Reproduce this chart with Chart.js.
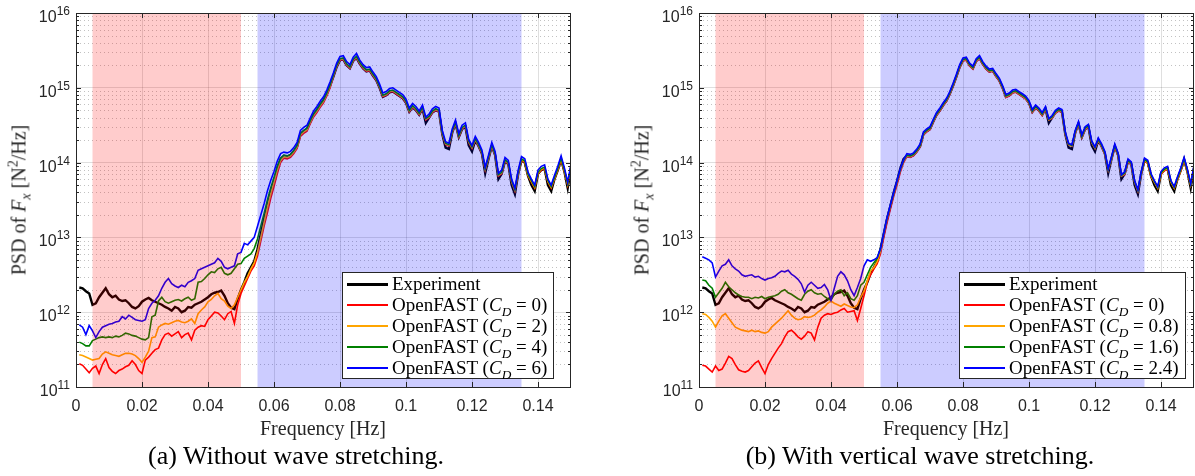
<!DOCTYPE html>
<html>
<head>
<meta charset="utf-8">
<script src="https://cdn.jsdelivr.net/npm/chart.js@4.4.1/dist/chart.umd.min.js"></script>
<style>
  body { margin: 0; background: #fff; }
  #page { position: relative; width: 1195px; height: 476px; overflow: hidden; font-family: "Liberation Serif", serif; }
  .panel { position: absolute; top: 0; width: 572px; height: 420px; }
  .ylab, .xlab, .caption { position: absolute; white-space: nowrap; }
  .ylab { font-size: 20px; color: #262626; transform: translate(-50%, -50%) rotate(-90deg); }
  .xlab { font-size: 20px; color: #262626; transform: translate(-50%, -50%); }
  .caption { font-size: 26px; color: #000; transform: translate(-50%, -50%); }
  sub, sup { font-size: 70%; line-height: 0; }
  .legend { position: absolute; background: #fff; border: 1px solid #262626; padding: 0 6px 0 0; font-size: 19px; color: #000; }
  .legend .row { display: flex; align-items: flex-start; height: 21px; line-height: 21px; white-space: nowrap; }
  .legend .swatch { display: block; width: 41px; margin: 10px 4px 0 4px; flex: none; }
</style>
</head>
<body>
<div id="page">
  <div class="panel" style="left:0"><canvas id="chartA"></canvas></div>
  <div class="panel" style="left:623px"><canvas id="chartB"></canvas></div>

  <div class="ylab" style="left:19px; top:200px">PSD of <i>F<sub>x</sub></i> [N<sup>2</sup>/Hz]</div>
  <div class="ylab" style="left:642px; top:200px">PSD of <i>F<sub>x</sub></i> [N<sup>2</sup>/Hz]</div>
  <div class="xlab" style="left:323px; top:428px">Frequency [Hz]</div>
  <div class="xlab" style="left:946px; top:428px">Frequency [Hz]</div>
  <div class="caption" style="left:296px; top:456px">(a) Without wave stretching.</div>
  <div class="caption" style="left:920px; top:456px">(b) With vertical wave stretching.</div>

  <div class="legend" id="legendA" style="left:342px; top:272px"></div>
  <div class="legend" id="legendB" style="left:959px; top:272px"></div>
</div>

<script>
// 周波数 [Hz]
var freq = [
  0.001, 0.002, 0.003, 0.004, 0.005, 0.006, 0.007, 0.008, 0.009, 0.010,
  0.011, 0.012, 0.013, 0.014, 0.015, 0.016, 0.017, 0.018, 0.019, 0.020,
  0.021, 0.022, 0.023, 0.024, 0.025, 0.026, 0.027, 0.028, 0.029, 0.030,
  0.031, 0.032, 0.033, 0.034, 0.035, 0.036, 0.037, 0.038, 0.039, 0.040,
  0.041, 0.042, 0.043, 0.044, 0.045, 0.046, 0.047, 0.048, 0.049, 0.050,
  0.051, 0.052, 0.053, 0.054, 0.055, 0.056, 0.057, 0.058, 0.059, 0.060,
  0.061, 0.062, 0.063, 0.064, 0.065, 0.066, 0.067, 0.068, 0.069, 0.070,
  0.071, 0.072, 0.073, 0.074, 0.075, 0.076, 0.077, 0.078, 0.079, 0.080,
  0.081, 0.082, 0.083, 0.084, 0.085, 0.086, 0.087, 0.088, 0.089, 0.090,
  0.091, 0.092, 0.093, 0.094, 0.095, 0.096, 0.097, 0.098, 0.099, 0.100,
  0.101, 0.102, 0.103, 0.104, 0.105, 0.106, 0.107, 0.108, 0.109, 0.110,
  0.111, 0.112, 0.113, 0.114, 0.115, 0.116, 0.117, 0.118, 0.119, 0.120,
  0.121, 0.122, 0.123, 0.124, 0.125, 0.126, 0.127, 0.128, 0.129, 0.130,
  0.131, 0.132, 0.133, 0.134, 0.135, 0.136, 0.137, 0.138, 0.139, 0.140,
  0.141, 0.142, 0.143, 0.144, 0.145, 0.146, 0.147, 0.148, 0.149, 0.150
];

// PSD の値は log10 [N^2/Hz] で読み取り
// 実験 (両方のグラフで共通)
var experimentLog = [
  12.33, 12.32, 12.28, 12.25, 12.10, 12.12, 12.20, 12.26, 12.32, 12.24,
  12.20, 12.22, 12.17, 12.15, 12.16, 12.12, 12.07, 12.05, 12.08, 12.14,
  12.17, 12.19, 12.16, 12.14, 12.12, 12.10, 12.07, 12.05, 12.02, 12.07,
  12.05, 12.00, 12.02, 12.07, 12.06, 12.10, 12.12, 12.14, 12.17, 12.20,
  12.24, 12.26, 12.27, 12.29, 12.22, 12.12, 12.06, 12.04, 12.18, 12.30,
  12.40, 12.52, 12.60, 12.68, 12.84, 13.05, 13.25, 13.42, 13.60, 13.75,
  13.92, 14.05, 14.09, 14.08, 14.10, 14.15, 14.22, 14.38, 14.42, 14.45,
  14.55, 14.64, 14.70, 14.77, 14.83, 14.92, 15.03, 15.15, 15.28, 15.37,
  15.38, 15.30, 15.26, 15.36, 15.40, 15.32, 15.26, 15.22, 15.23, 15.16,
  15.10, 15.00, 14.88, 14.90, 14.94, 14.95, 14.92, 14.89, 14.86, 14.80,
  14.68, 14.74, 14.70, 14.64, 14.72, 14.53, 14.60, 14.67, 14.70, 14.68,
  14.38, 14.20, 14.18, 14.40, 14.52, 14.34, 14.45, 14.48, 14.23, 14.15,
  14.30, 14.22, 14.12, 13.86, 14.05, 14.22, 14.10, 13.78, 13.85, 14.02,
  13.98, 13.70, 13.58, 13.85, 14.03, 14.00, 13.82, 13.70, 13.62, 13.85,
  13.90, 13.92, 13.70, 13.62, 13.78, 13.90, 14.04, 13.88, 13.66, 13.93
];

// (a) 波の伸長なし : OpenFAST C_D = 0, 2, 4, 6
var fastA_cd0 = [
  11.31, 11.29, 11.24, 11.19, 11.25, 11.28, 11.18, 11.30, 11.38, 11.26,
  11.21, 11.18, 11.22, 11.24, 11.27, 11.29, 11.35, 11.30, 11.22, 11.18,
  11.36, 11.40, 11.45, 11.50, 11.52, 11.63, 11.70, 11.72, 11.68, 11.71,
  11.74, 11.66, 11.70, 11.72, 11.63, 11.76, 11.80, 11.82, 11.81, 11.90,
  11.95, 12.00, 11.99, 11.95, 11.90, 11.98, 12.01, 11.85, 12.10, 12.25,
  12.35, 12.45, 12.55, 12.62, 12.75, 12.95, 13.15, 13.33, 13.52, 13.68,
  13.85, 14.00, 14.06, 14.05, 14.07, 14.12, 14.19, 14.35, 14.39, 14.42,
  14.52, 14.61, 14.67, 14.74, 14.80, 14.89, 15.00, 15.15, 15.28, 15.37,
  15.38, 15.30, 15.26, 15.36, 15.40, 15.32, 15.26, 15.22, 15.23, 15.16,
  15.10, 15.00, 14.88, 14.90, 14.94, 14.95, 14.92, 14.89, 14.86, 14.80,
  14.68, 14.74, 14.70, 14.64, 14.72, 14.57, 14.60, 14.67, 14.70, 14.68,
  14.38, 14.24, 14.22, 14.40, 14.52, 14.34, 14.45, 14.48, 14.27, 14.19,
  14.30, 14.22, 14.12, 13.90, 14.05, 14.22, 14.10, 13.82, 13.85, 14.02,
  13.98, 13.74, 13.62, 13.85, 14.03, 14.00, 13.82, 13.74, 13.66, 13.85,
  13.90, 13.92, 13.74, 13.66, 13.78, 13.90, 14.04, 13.88, 13.70, 13.93
];
var fastA_cd2 = [
  11.43, 11.42, 11.40, 11.38, 11.36, 11.37, 11.38, 11.44, 11.47, 11.45,
  11.43, 11.42, 11.41, 11.43, 11.45, 11.45, 11.44, 11.42, 11.38, 11.33,
  11.40, 11.48, 11.66, 11.67, 11.80, 11.83, 11.85, 11.84, 11.86, 11.88,
  11.89, 11.87, 11.86, 11.88, 11.91, 11.85, 11.98, 12.03, 12.07, 12.14,
  12.17, 12.22, 12.25, 12.18, 12.15, 12.08, 12.05, 12.10, 12.20, 12.30,
  12.40, 12.48, 12.58, 12.66, 12.80, 13.00, 13.20, 13.40, 13.58, 13.74,
  13.90, 14.03, 14.08, 14.07, 14.09, 14.14, 14.21, 14.37, 14.41, 14.44,
  14.54, 14.63, 14.69, 14.76, 14.82, 14.91, 15.02, 15.16, 15.29, 15.38,
  15.39, 15.31, 15.27, 15.37, 15.41, 15.33, 15.27, 15.23, 15.24, 15.17,
  15.11, 15.01, 14.89, 14.91, 14.95, 14.96, 14.93, 14.90, 14.87, 14.81,
  14.69, 14.75, 14.71, 14.65, 14.73, 14.58, 14.61, 14.68, 14.71, 14.69,
  14.39, 14.25, 14.23, 14.41, 14.53, 14.35, 14.46, 14.49, 14.28, 14.20,
  14.31, 14.23, 14.13, 13.91, 14.06, 14.23, 14.11, 13.83, 13.86, 14.03,
  13.99, 13.75, 13.63, 13.86, 14.04, 14.01, 13.83, 13.75, 13.67, 13.86,
  13.91, 13.93, 13.75, 13.67, 13.79, 13.91, 14.05, 13.89, 13.71, 13.94
];
var fastA_cd4 = [
  11.60, 11.58, 11.55, 11.55, 11.62, 11.64, 11.66, 11.67, 11.66, 11.67,
  11.66, 11.68, 11.67, 11.69, 11.72, 11.71, 11.69, 11.68, 11.66, 11.64,
  11.63, 11.66, 11.94, 11.96, 12.15, 12.20, 12.14, 12.12, 12.14, 12.16,
  12.17, 12.15, 12.18, 12.20, 12.16, 12.18, 12.40, 12.41, 12.45, 12.50,
  12.54, 12.53, 12.58, 12.60, 12.52, 12.50, 12.52, 12.58, 12.64, 12.65,
  12.72, 12.75, 12.78, 12.85, 12.98, 13.15, 13.32, 13.50, 13.66, 13.80,
  13.95, 14.06, 14.10, 14.09, 14.11, 14.16, 14.23, 14.39, 14.43, 14.46,
  14.56, 14.65, 14.71, 14.78, 14.84, 14.93, 15.04, 15.17, 15.30, 15.39,
  15.40, 15.32, 15.28, 15.38, 15.42, 15.34, 15.28, 15.24, 15.25, 15.18,
  15.12, 15.02, 14.90, 14.92, 14.96, 14.97, 14.94, 14.91, 14.88, 14.82,
  14.70, 14.76, 14.72, 14.66, 14.74, 14.59, 14.62, 14.69, 14.72, 14.70,
  14.40, 14.26, 14.24, 14.42, 14.54, 14.36, 14.47, 14.50, 14.29, 14.21,
  14.32, 14.24, 14.14, 13.92, 14.07, 14.24, 14.12, 13.84, 13.87, 14.04,
  14.00, 13.76, 13.64, 13.87, 14.05, 14.02, 13.84, 13.76, 13.68, 13.87,
  13.92, 13.94, 13.76, 13.68, 13.80, 13.92, 14.06, 13.90, 13.72, 13.95
];
var fastA_cd6 = [
  11.83, 11.80, 11.70, 11.82, 11.75, 11.66, 11.74, 11.80, 11.82, 11.84,
  11.85, 11.87, 11.88, 11.94, 11.91, 11.96, 11.93, 11.90, 11.89, 11.88,
  11.90, 12.05, 12.12, 12.16, 12.22, 12.32, 12.40, 12.45, 12.38, 12.35,
  12.33, 12.36, 12.34, 12.40, 12.42, 12.45, 12.56, 12.58, 12.60, 12.62,
  12.64, 12.66, 12.72, 12.68, 12.60, 12.58, 12.60, 12.62, 12.78, 12.80,
  12.92, 12.90, 12.95, 13.00, 13.15, 13.30, 13.45, 13.62, 13.76, 13.88,
  14.02, 14.12, 14.14, 14.13, 14.15, 14.20, 14.27, 14.43, 14.47, 14.50,
  14.60, 14.69, 14.75, 14.82, 14.88, 14.97, 15.08, 15.20, 15.33, 15.42,
  15.43, 15.35, 15.31, 15.41, 15.46, 15.37, 15.31, 15.27, 15.28, 15.21,
  15.15, 15.05, 14.93, 14.95, 14.99, 15.00, 14.97, 14.94, 14.91, 14.85,
  14.73, 14.79, 14.75, 14.69, 14.77, 14.61, 14.65, 14.72, 14.75, 14.73,
  14.43, 14.28, 14.26, 14.45, 14.57, 14.39, 14.50, 14.53, 14.31, 14.23,
  14.35, 14.27, 14.17, 13.94, 14.10, 14.27, 14.15, 13.86, 13.90, 14.07,
  14.03, 13.78, 13.66, 13.90, 14.08, 14.05, 13.87, 13.78, 13.70, 13.90,
  13.95, 13.97, 13.78, 13.70, 13.83, 13.95, 14.09, 13.93, 13.74, 13.98
];

// (b) 鉛直方向の波の伸長あり : OpenFAST C_D = 0, 0.8, 1.6, 2.4
var fastB_cd0 = [
  11.29, 11.28, 11.24, 11.20, 11.28, 11.22, 11.24, 11.32, 11.41, 11.38,
  11.30, 11.23, 11.21, 11.20, 11.22, 11.27, 11.32, 11.35, 11.26, 11.18,
  11.30, 11.38, 11.45, 11.52, 11.58, 11.67, 11.74, 11.76, 11.72, 11.67,
  11.64, 11.68, 11.74, 11.72, 11.63, 11.80, 11.92, 11.96, 11.98, 11.97,
  11.99, 12.00, 12.03, 12.05, 12.00, 12.01, 12.02, 11.89, 12.05, 12.22,
  12.40, 12.50, 12.58, 12.65, 12.78, 13.00, 13.20, 13.38, 13.55, 13.70,
  13.87, 14.00, 14.08, 14.07, 14.09, 14.14, 14.21, 14.37, 14.41, 14.44,
  14.54, 14.63, 14.69, 14.76, 14.82, 14.91, 15.02, 15.14, 15.27, 15.36,
  15.37, 15.29, 15.25, 15.35, 15.39, 15.31, 15.25, 15.21, 15.22, 15.15,
  15.09, 14.99, 14.87, 14.89, 14.93, 14.94, 14.91, 14.88, 14.85, 14.79,
  14.67, 14.73, 14.69, 14.63, 14.71, 14.57, 14.59, 14.66, 14.69, 14.67,
  14.37, 14.24, 14.22, 14.39, 14.51, 14.33, 14.44, 14.47, 14.27, 14.19,
  14.29, 14.21, 14.11, 13.90, 14.04, 14.21, 14.09, 13.82, 13.84, 14.01,
  13.97, 13.74, 13.62, 13.84, 14.02, 13.99, 13.81, 13.74, 13.66, 13.84,
  13.89, 13.91, 13.74, 13.66, 13.77, 13.89, 14.03, 13.87, 13.70, 13.92
];
var fastB_cd08 = [
  11.98, 11.97, 11.93, 11.88, 11.80, 11.88, 11.95, 11.98, 11.92, 11.86,
  11.80, 11.78, 11.76, 11.75, 11.74, 11.76, 11.74, 11.75, 11.73, 11.72,
  11.74, 11.80, 11.84, 11.88, 11.92, 11.97, 12.02, 11.96, 11.92, 11.90,
  11.91, 11.94, 11.93, 11.94, 11.96, 12.00, 12.03, 12.07, 12.12, 12.15,
  12.12, 12.10, 12.08, 12.11, 12.09, 12.07, 12.06, 12.10, 12.20, 12.28,
  12.42, 12.55, 12.60, 12.68, 12.82, 13.05, 13.25, 13.42, 13.58, 13.74,
  13.90, 14.02, 14.09, 14.08, 14.10, 14.15, 14.22, 14.38, 14.42, 14.45,
  14.55, 14.64, 14.70, 14.77, 14.83, 14.92, 15.03, 15.15, 15.28, 15.37,
  15.38, 15.30, 15.26, 15.36, 15.40, 15.32, 15.26, 15.22, 15.23, 15.16,
  15.10, 15.00, 14.88, 14.90, 14.94, 14.95, 14.92, 14.89, 14.86, 14.80,
  14.68, 14.74, 14.70, 14.64, 14.72, 14.57, 14.60, 14.67, 14.70, 14.68,
  14.38, 14.24, 14.22, 14.40, 14.52, 14.34, 14.45, 14.48, 14.27, 14.19,
  14.30, 14.22, 14.12, 13.90, 14.05, 14.22, 14.10, 13.82, 13.85, 14.02,
  13.98, 13.74, 13.62, 13.85, 14.03, 14.00, 13.82, 13.74, 13.66, 13.85,
  13.90, 13.92, 13.74, 13.66, 13.78, 13.90, 14.04, 13.88, 13.70, 13.93
];
var fastB_cd16 = [
  12.43, 12.42, 12.36, 12.32, 12.20, 12.26, 12.32, 12.40, 12.34, 12.30,
  12.26, 12.23, 12.21, 12.20, 12.20, 12.18, 12.20, 12.19, 12.21, 12.18,
  12.20, 12.21, 12.22, 12.24, 12.28, 12.30, 12.26, 12.24, 12.21, 12.18,
  12.16, 12.24, 12.28, 12.30, 12.26, 12.24, 12.25, 12.21, 12.18, 12.16,
  12.24, 12.28, 12.30, 12.22, 12.26, 12.18, 12.16, 12.22, 12.36, 12.40,
  12.50, 12.60, 12.66, 12.72, 12.85, 13.06, 13.26, 13.43, 13.59, 13.75,
  13.91, 14.03, 14.10, 14.09, 14.11, 14.16, 14.23, 14.39, 14.43, 14.46,
  14.56, 14.65, 14.71, 14.78, 14.84, 14.93, 15.04, 15.16, 15.29, 15.38,
  15.39, 15.31, 15.27, 15.37, 15.41, 15.33, 15.27, 15.23, 15.24, 15.17,
  15.11, 15.01, 14.89, 14.91, 14.95, 14.96, 14.93, 14.90, 14.87, 14.81,
  14.69, 14.75, 14.71, 14.65, 14.73, 14.58, 14.61, 14.68, 14.71, 14.69,
  14.39, 14.25, 14.23, 14.41, 14.53, 14.35, 14.46, 14.49, 14.28, 14.20,
  14.31, 14.23, 14.13, 13.91, 14.06, 14.23, 14.11, 13.83, 13.86, 14.03,
  13.99, 13.75, 13.63, 13.86, 14.04, 14.01, 13.83, 13.75, 13.67, 13.86,
  13.91, 13.93, 13.75, 13.67, 13.79, 13.91, 14.05, 13.89, 13.71, 13.94
];
var fastB_cd24 = [
  12.74, 12.72, 12.70, 12.66, 12.47, 12.55, 12.62, 12.64, 12.70, 12.62,
  12.58, 12.55, 12.50, 12.48, 12.49, 12.50, 12.47, 12.48, 12.45, 12.43,
  12.45, 12.46, 12.48, 12.52, 12.55, 12.54, 12.56, 12.51, 12.48, 12.44,
  12.38, 12.27, 12.36, 12.40, 12.36, 12.32, 12.33, 12.37, 12.30, 12.16,
  12.32, 12.48, 12.54, 12.50, 12.42, 12.30, 12.22, 12.33, 12.45, 12.62,
  12.70, 12.68, 12.70, 12.73, 12.85, 13.06, 13.27, 13.44, 13.60, 13.76,
  13.92, 14.04, 14.12, 14.11, 14.13, 14.18, 14.25, 14.41, 14.45, 14.48,
  14.58, 14.67, 14.73, 14.80, 14.86, 14.95, 15.06, 15.18, 15.31, 15.40,
  15.41, 15.33, 15.29, 15.39, 15.43, 15.35, 15.29, 15.25, 15.26, 15.19,
  15.13, 15.03, 14.91, 14.93, 14.97, 14.98, 14.95, 14.92, 14.89, 14.83,
  14.71, 14.77, 14.73, 14.67, 14.75, 14.59, 14.63, 14.70, 14.73, 14.71,
  14.41, 14.26, 14.24, 14.43, 14.55, 14.37, 14.48, 14.51, 14.29, 14.21,
  14.33, 14.25, 14.15, 13.92, 14.08, 14.25, 14.13, 13.84, 13.88, 14.05,
  14.01, 13.76, 13.64, 13.88, 14.06, 14.03, 13.85, 13.76, 13.68, 13.88,
  13.93, 13.95, 13.76, 13.68, 13.81, 13.93, 14.07, 13.91, 13.72, 13.96
];

// C_D の凡例ラベル
var cdA = ["0", "2", "4", "6"];
var cdB = ["0", "0.8", "1.6", "2.4"];

// 線の色 (実験, C_D 小 → 大)
var lineColors = ["#000000", "#ff0000", "#ffa500", "#008000", "#0000ff"];

// 目盛り
var xTicks = [0, 0.02, 0.04, 0.06, 0.08, 0.1, 0.12, 0.14];
var yTicks = [1e11, 1e12, 1e13, 1e14, 1e15, 1e16];

// 背景の帯 [Hz]
var redBand = [0.005, 0.05];
var blueBand = [0.055, 0.135];

var axisColor = "#262626";

function toPoints(logs) {
  return logs.map(function (v, i) { return { x: freq[i], y: Math.pow(10, v) }; });
}

// 補助目盛り (対数軸の 2..9 × 10^n)
var yMinor = [];
yTicks.slice(0, -1).forEach(function (d) {
  for (var m = 2; m <= 9; m++) yMinor.push(m * d);
});

var framePlugin = {
  id: "frame",
  beforeDatasetsDraw: function (chart) {
    var ctx = chart.ctx, a = chart.chartArea, y = chart.scales.y;
    ctx.save();
    ctx.strokeStyle = "#c2c2c2";
    ctx.lineWidth = 1;
    ctx.setLineDash([1, 3]);
    yMinor.forEach(function (v) {
      var py = Math.round(y.getPixelForValue(v)) + 0.5;
      ctx.beginPath();
      ctx.moveTo(a.left, py);
      ctx.lineTo(a.right, py);
      ctx.stroke();
    });
    ctx.restore();
  },
  afterDatasetsDraw: function (chart) {
    // 帯は線の上に半透明で重ねる
    var ctx = chart.ctx, a = chart.chartArea, x = chart.scales.x;
    ctx.save();
    ctx.fillStyle = "rgba(255,0,0,0.2)";
    var x0 = x.getPixelForValue(redBand[0]), x1 = x.getPixelForValue(redBand[1]);
    ctx.fillRect(x0, a.top, x1 - x0, a.bottom - a.top);
    ctx.fillStyle = "rgba(0,0,255,0.2)";
    x0 = x.getPixelForValue(blueBand[0]); x1 = x.getPixelForValue(blueBand[1]);
    ctx.fillRect(x0, a.top, x1 - x0, a.bottom - a.top);
    ctx.restore();
  },
  afterDraw: function (chart) {
    var ctx = chart.ctx, a = chart.chartArea, x = chart.scales.x, y = chart.scales.y;
    ctx.save();
    ctx.strokeStyle = axisColor;
    ctx.lineWidth = 1;
    ctx.beginPath();
    // x 目盛り (上下, 内向き)
    xTicks.forEach(function (v) {
      var px = Math.round(x.getPixelForValue(v)) + 0.5;
      ctx.moveTo(px, a.bottom); ctx.lineTo(px, a.bottom - 5);
      ctx.moveTo(px, a.top); ctx.lineTo(px, a.top + 5);
    });
    // y 目盛り (左右)
    yTicks.forEach(function (v) {
      var py = Math.round(y.getPixelForValue(v)) + 0.5;
      ctx.moveTo(a.left, py); ctx.lineTo(a.left + 5, py);
      ctx.moveTo(a.right, py); ctx.lineTo(a.right - 5, py);
    });
    yMinor.forEach(function (v) {
      var py = Math.round(y.getPixelForValue(v)) + 0.5;
      ctx.moveTo(a.left, py); ctx.lineTo(a.left + 3, py);
      ctx.moveTo(a.right, py); ctx.lineTo(a.right - 3, py);
    });
    ctx.stroke();
    ctx.strokeRect(Math.round(a.left) + 0.5, Math.round(a.top) + 0.5,
                   Math.round(a.right - a.left) - 1, Math.round(a.bottom - a.top));

    // y ラベル 10^n
    ctx.fillStyle = axisColor;
    ctx.textBaseline = "alphabetic";
    yTicks.forEach(function (v) {
      var py = y.getPixelForValue(v);
      var expo = String(Math.round(Math.log10(v)));
      ctx.font = "12px 'Liberation Sans', Arial, sans-serif";
      var w = ctx.measureText(expo).width;
      var right = a.left - 6;
      ctx.textAlign = "left";
      ctx.fillText(expo, right - w, py + 2);
      ctx.font = "16px 'Liberation Sans', Arial, sans-serif";
      ctx.textAlign = "right";
      ctx.fillText("10", right - w, py + 9);
    });
    ctx.restore();
  }
};

function makeChart(canvasId, sims) {
  var datasets = [{
    label: "Experiment",
    data: toPoints(experimentLog),
    borderColor: lineColors[0],
    borderWidth: 2.4,
    order: sims.length
  }];
  sims.forEach(function (s, k) {
    datasets.push({
      label: "OpenFAST",
      data: toPoints(s),
      borderColor: lineColors[k + 1],
      borderWidth: 1.6,
      order: sims.length - 1 - k
    });
  });

  return new Chart(document.getElementById(canvasId), {
    type: "line",
    data: { datasets: datasets },
    options: {
      responsive: true,
      maintainAspectRatio: false,
      animation: false,
      events: [],
      layout: { padding: { top: 13, right: 1, left: 0, bottom: 0 } },
      elements: { point: { radius: 0 }, line: { tension: 0, fill: false } },
      plugins: { legend: { display: false }, tooltip: { enabled: false } },
      scales: {
        x: {
          type: "linear",
          min: 0,
          max: 0.15,
          afterBuildTicks: function (s) { s.ticks = xTicks.map(function (v) { return { value: v }; }); },
          afterFit: function (s) { s.height = 33; },
          ticks: {
            autoSkip: false,
            maxRotation: 0,
            padding: 10,
            color: axisColor,
            font: { family: "'Liberation Sans', Arial, sans-serif", size: 16 },
            callback: function (v) { return String(v); }
          },
          grid: { color: "rgba(38,38,38,0.15)", lineWidth: 1, drawTicks: false },
          border: { display: false }
        },
        y: {
          type: "logarithmic",
          min: 1e11,
          max: 1e16,
          afterBuildTicks: function (s) { s.ticks = yTicks.map(function (v) { return { value: v }; }); },
          afterFit: function (s) { s.width = 76; },
          ticks: { display: false },
          grid: { color: "rgba(38,38,38,0.15)", lineWidth: 1, drawTicks: false },
          border: { display: false }
        }
      }
    },
    plugins: [framePlugin]
  });
}

// 凡例 (HTML)
function makeLegend(id, cds) {
  var box = document.getElementById(id);
  var rows = [{ html: "Experiment", color: lineColors[0], w: 3 }];
  cds.forEach(function (c, k) {
    rows.push({ html: "OpenFAST (<i>C<sub>D</sub></i> = " + c + ")", color: lineColors[k + 1], w: 2 });
  });
  rows.forEach(function (r) {
    var row = document.createElement("div");
    row.className = "row";
    row.innerHTML = '<span class="swatch" style="height:' + r.w + 'px;background:' + r.color + '"></span><span>' + r.html + "</span>";
    box.appendChild(row);
  });
}

var chartA = makeChart("chartA", [fastA_cd0, fastA_cd2, fastA_cd4, fastA_cd6]);
var chartB = makeChart("chartB", [fastB_cd0, fastB_cd08, fastB_cd16, fastB_cd24]);
makeLegend("legendA", cdA);
makeLegend("legendB", cdB);
</script>
</body>
</html>
